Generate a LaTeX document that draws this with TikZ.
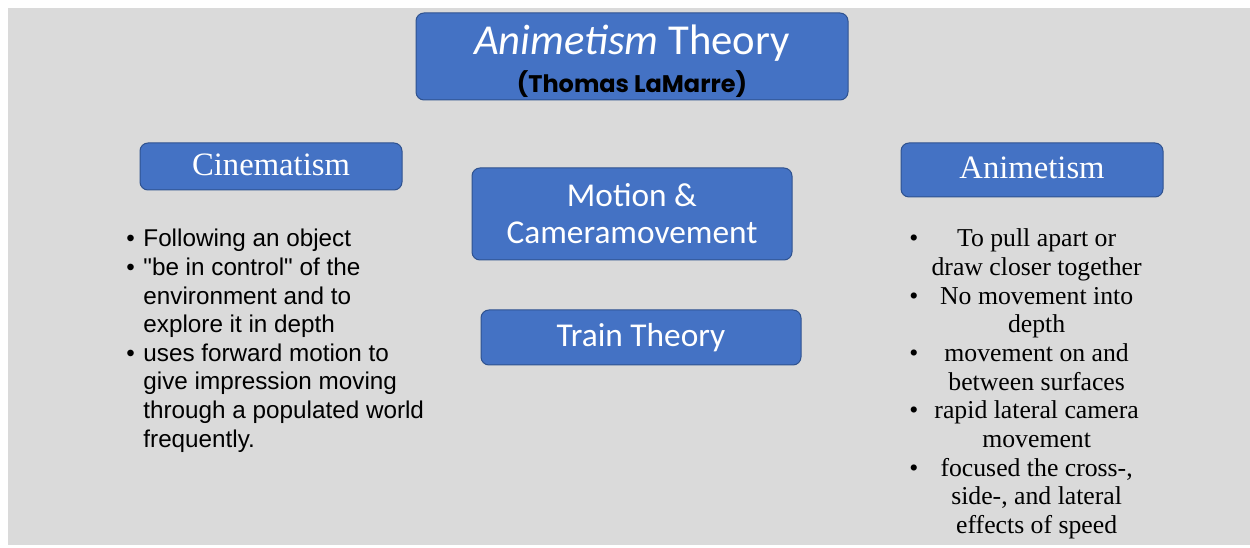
\documentclass[tikz,border=0pt]{standalone}
\usepackage{fontspec}
\usepackage{xcolor}
\setmainfont{Liberation Serif}
\newfontfamily\calibri{Carlito}
\newfontfamily\arial{Liberation Sans}
\newfontfamily\poppins{Poppins}
\definecolor{boxblue}{HTML}{4472C4}
\definecolor{boxedge}{HTML}{2F528F}
\definecolor{slidegray}{HTML}{DADADA}
\def\boxfont{\calibri\fontsize{25}{27.75}\selectfont}
\def\headfont{\fontsize{24.5}{26}\selectfont}

\begin{document}
\begin{tikzpicture}[x=0.75pt,y=-0.75pt]
    \tikzstyle{theorybox}=[draw=boxedge,fill=boxblue,rounded corners=6pt,
      line width=0.75pt,text=white,inner sep=0pt,align=center]
    \useasboundingbox (0,0) rectangle (1250,548);
    \fill[white] (0,0) rectangle (1250,548);
    \fill[slidegray] (8,8) rectangle (1250,545);
    % title
    \node[theorybox,minimum width=324pt,minimum height=65.25pt] (title) at (632,56.5)
      {\raisebox{-3.2pt}[\height][\depth]{\begin{tabular}{@{}c@{}}
         \calibri\fontsize{32}{32}\selectfont\textit{Animetism} Theory\\[8.5pt]
         \poppins\bfseries\fontsize{18}{18}\selectfont\color{black}(Thomas LaMarre)
       \end{tabular}}};
    % the two theories
    \node[theorybox,minimum width=196.5pt,minimum height=35.25pt,font=\headfont]
      (cinema) at (271,166.5) {\raisebox{3pt}{Cinematism}};
    \node[theorybox,minimum width=196.5pt,minimum height=40.5pt,font=\headfont]
      (anime) at (1032,170) {\raisebox{3pt}{Animetism}};
    % middle
    \node[theorybox,minimum width=240pt,minimum height=69pt,font=\boxfont]
      (motion) at (632,214) {Motion \&\\Cameramovement};
    \node[theorybox,minimum width=240pt,minimum height=41.25pt,font=\boxfont]
      (train) at (641,337.5) {Train Theory};
    % lists
    \node[anchor=base west,inner sep=0pt] (cinemalist) at (126,247)
      {\arial\fontsize{18.2}{21.45}\selectfont
       \begin{tabular}[t]{@{}l@{\hspace{6.5pt}}l@{}}
         \textbullet & Following an object\\
         \textbullet & "be in control" of the\\
                     & environment and to\\
                     & explore it in depth\\
         \textbullet & uses forward motion to\\
                     & give impression moving\\
                     & through a populated world\\
                     & frequently.
       \end{tabular}};
    \node[anchor=base west,inner sep=0pt] (animelist) at (909,247)
      {\fontsize{19.3}{21.5}\selectfont
       \begin{tabular}[t]{@{}l@{\hspace{10pt}}c@{}}
         \textbullet & To pull apart or\\
                     & draw closer together\\
         \textbullet & No movement into\\
                     & depth\\
         \textbullet & movement on and\\
                     & between surfaces\\
         \textbullet & rapid lateral camera\\
                     & movement\\
         \textbullet & focused the cross-,\\
                     & side-, and lateral\\
                     & effects of speed
       \end{tabular}};
\end{tikzpicture}
\end{document}
